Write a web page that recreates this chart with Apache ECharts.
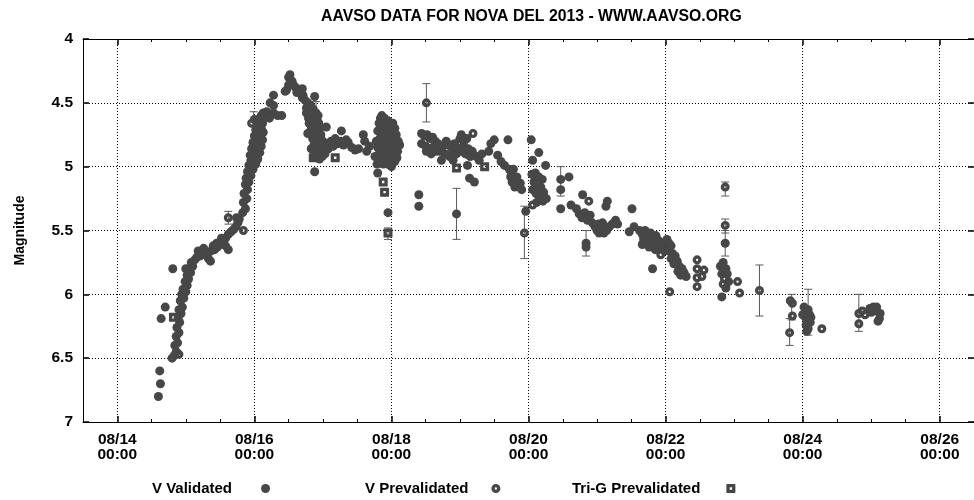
<!DOCTYPE html>
<html><head><meta charset="utf-8">
<script src="https://cdn.jsdelivr.net/npm/echarts@6/dist/echarts.min.js"></script>
<style>html,body{margin:0;padding:0;background:#fff}#c{width:974px;height:500px}</style>
</head><body><div id="c"></div>
<script>
const titleText = 'AAVSO DATA FOR NOVA DEL 2013 - WWW.AAVSO.ORG';
const yName = 'Magnitude';
const seriesNames = ['V Validated', 'V Prevalidated', 'Tri-G Prevalidated'];
// x values: day of August 2013 (UT); labels show MM/DD HH:mm
const xMajorDays = [14, 16, 18, 20, 22, 24, 26];
const xMinorDays = [14.5, 15, 15.5, 16.5, 17, 17.5, 18.5, 19, 19.5, 20.5, 21, 21.5, 22.5, 23, 23.5, 24.5, 25, 25.5];

const vValidated = [
  [14.60,6.80],[14.63,6.70],[14.62,6.60],[14.64,6.19],[14.70,6.10],[14.81,5.80],[15.00,5.80],
  [14.83,6.48],[14.86,6.45],[14.84,6.40],[14.88,6.38],[14.86,6.33],[14.90,6.30],[14.87,6.26],[14.91,6.22],
  [14.89,6.18],[14.93,6.15],[14.90,6.12],[14.95,6.10],[14.92,6.05],[14.97,6.03],[14.94,6.00],[15.00,5.98],
  [14.96,5.96],[15.02,5.93],[14.99,5.90],[15.04,5.88],[15.02,5.85],[15.07,5.83],[15.05,5.80],[15.10,5.78],
  [15.08,5.75],[15.13,5.73],[15.16,5.71],[15.20,5.70],[15.24,5.69],[15.28,5.68],[15.33,5.67],[15.37,5.66],
  [15.42,5.65],[15.46,5.63],[15.50,5.61],[15.54,5.59],[15.58,5.56],[15.62,5.53],[15.66,5.51],[15.70,5.49],
  [15.73,5.47],[15.76,5.44],[15.78,5.41],[15.74,5.40],[15.33,5.72],[15.36,5.74],[15.58,5.62],[15.62,5.65],
  [15.18,5.66],[15.26,5.64],[15.40,5.62],[15.52,5.56],
  [15.83,5.36],[15.87,5.33],[15.84,5.28],[15.89,5.25],[15.85,5.21],[15.90,5.18],[15.87,5.14],[15.92,5.12],
  [15.88,5.09],[15.95,5.07],[15.90,5.04],[15.98,5.02],[15.92,4.99],[16.02,4.98],[15.95,4.95],[16.05,4.94],
  [15.94,4.91],[16.00,4.90],[16.08,4.89],[15.96,4.86],[16.04,4.85],[16.10,4.84],[15.98,4.81],[16.06,4.80],
  [16.12,4.79],[16.00,4.76],[16.08,4.75],[16.13,4.73],[16.02,4.71],[16.10,4.70],[16.04,4.66],[16.12,4.66],
  [16.00,4.63],[16.08,4.62],
  [16.13,4.58],[16.18,4.57],[16.28,4.58],[16.40,4.60],[16.23,4.50],[16.28,4.44],[16.50,4.30],[16.57,4.36],
  [16.45,4.41],[16.67,4.40],[16.71,4.44],[16.88,4.45],[16.52,4.28],[16.55,4.33],[16.60,4.38],[16.50,4.36],
  [16.62,4.42],[16.70,4.39],[16.47,4.40],[16.28,4.52],[16.18,4.60],[16.10,4.60],[16.22,4.62],[16.34,4.60],
  [16.78,4.50],[16.82,4.52],[16.86,4.55],[16.80,4.58],[16.90,4.58],[16.84,4.62],[16.92,4.64],[16.80,4.66],
  [16.88,4.68],[16.95,4.70],[16.82,4.72],[16.90,4.74],[16.97,4.75],[16.85,4.78],[16.93,4.79],[17.00,4.80],
  [16.87,4.83],[16.96,4.84],[16.90,4.88],[16.98,4.88],[17.02,4.85],[16.92,4.92],[17.05,4.82],[17.08,4.86],
  [17.12,4.80],[17.15,4.84],[17.18,4.78],[17.22,4.82],[17.26,4.80],[17.30,4.83],[17.34,4.79],[17.37,4.81],
  [17.27,4.72],[17.05,4.69],[16.88,5.04],[16.70,4.46],[16.74,4.48],
  [16.76,4.54],[16.79,4.62],[16.83,4.68],[16.86,4.64],[16.89,4.70],[16.94,4.66],[16.78,4.74],[16.83,4.86],
  [16.88,4.91],[16.95,4.94],[16.99,4.92],[17.03,4.90],[16.93,4.60],[16.97,4.80],
  [17.47,4.87],[17.59,4.75],[17.61,4.80],[17.64,4.88],[17.42,4.85],[17.52,4.86],[17.68,4.84],
  [17.78,4.80],[17.80,4.72],[17.82,4.66],[17.84,4.62],[17.86,4.60],[17.88,4.64],[17.90,4.62],[17.92,4.66],
  [17.95,4.64],[17.98,4.68],[18.02,4.66],[18.05,4.70],[17.80,4.85],[17.83,4.78],[17.86,4.72],[17.89,4.70],
  [17.92,4.74],[17.95,4.72],[17.98,4.76],[18.01,4.74],[18.04,4.78],[18.07,4.75],[18.10,4.80],[17.82,4.90],
  [17.85,4.84],[17.88,4.80],[17.91,4.82],[17.94,4.80],[17.97,4.84],[18.00,4.82],[18.03,4.86],[18.06,4.84],
  [18.09,4.88],[17.84,4.95],[17.87,4.90],[17.90,4.88],[17.93,4.92],[17.96,4.90],[17.99,4.94],[18.02,4.92],
  [18.05,4.96],[17.76,4.92],[17.79,4.98],[17.88,4.98],[17.94,4.98],[18.00,5.00],[17.80,5.05],[17.95,5.36],
  [18.12,4.83],[18.08,4.93],
  [18.40,5.22],[18.40,5.31],[18.95,5.37],
  [18.44,4.74],[18.48,4.76],[18.52,4.75],[18.56,4.78],[18.60,4.77],[18.44,4.82],[18.50,4.84],[18.55,4.86],
  [18.60,4.85],[18.64,4.80],[18.68,4.82],[18.51,4.88],[18.58,4.90],[18.65,4.88],[18.70,4.88],[18.73,4.95],
  [18.75,4.84],[18.80,4.80],[18.84,4.83],[18.88,4.86],[18.92,4.82],[18.96,4.85],[19.00,4.78],[19.02,4.75],
  [18.78,4.90],[18.85,4.92],[18.90,4.95],[18.95,4.90],[19.00,4.88],[19.05,4.84],[19.08,4.90],[19.11,4.99],
  [19.12,4.86],[19.15,4.92],[19.18,4.88],[19.14,5.09],[19.21,5.12],[19.24,4.92],[19.28,4.95],[19.32,4.90],
  [19.06,4.80],[19.10,4.78],
  [19.45,4.82],[19.50,4.79],[19.70,4.79],[19.55,4.91],[19.65,4.99],[19.72,5.02],[19.75,5.06],[19.78,5.02],
  [19.80,5.10],[19.76,5.12],[19.83,5.08],[19.85,5.15],[19.80,5.16],[19.88,5.13],[19.90,5.18],[19.74,5.08],
  [19.60,4.96],[19.42,4.88],
  [20.04,4.79],[20.15,4.89],[20.06,4.95],[20.25,4.99],[20.05,5.06],[20.10,5.05],[20.15,5.08],[20.20,5.10],
  [20.08,5.12],[20.13,5.14],[20.18,5.16],[20.22,5.20],[20.06,5.18],[20.11,5.21],[20.16,5.24],[20.21,5.27],
  [20.26,5.25],[20.12,5.28],[19.96,5.35],
  [20.47,5.10],[20.59,5.08],[20.47,5.18],[20.47,5.33],[20.79,5.22],[20.62,5.30],[20.84,5.60],[20.84,5.63],
  [20.74,5.37],[20.70,5.33],[20.78,5.40],[20.82,5.36],[20.86,5.42],[20.93,5.44],[20.97,5.47],[21.00,5.50],
  [21.03,5.52],[21.06,5.49],[21.10,5.52],[21.14,5.50],[21.18,5.47],[21.22,5.45],[21.27,5.42],[21.30,5.45],
  [21.13,5.31],[21.15,5.27],[21.08,5.44],[21.02,5.45],[20.90,5.38],
  [21.51,5.33],[21.54,5.47],[21.47,5.51],[21.66,5.61],[21.81,5.80],
  [21.62,5.50],[21.66,5.53],[21.70,5.50],[21.74,5.55],[21.78,5.52],[21.82,5.56],[21.86,5.54],[21.90,5.58],
  [21.72,5.60],[21.76,5.63],[21.80,5.60],[21.85,5.65],[21.90,5.62],[21.95,5.60],[21.98,5.66],[21.68,5.57],
  [22.02,5.57],[22.05,5.60],[22.08,5.62],[22.04,5.66],[22.10,5.68],[22.14,5.70],[22.08,5.72],[22.17,5.74],
  [22.12,5.76],[22.20,5.78],[22.24,5.80],[22.18,5.82],[22.27,5.83],[22.30,5.86],[22.22,5.85],
  [22.87,5.60],[22.80,5.78],[22.84,5.75],[22.88,5.80],[22.82,5.84],[22.90,5.84],[22.88,5.95],[22.92,5.90],
  [22.82,6.02],
  [24.02,6.10],[24.05,6.14],[24.08,6.12],[24.04,6.18],[24.07,6.20],[24.10,6.16],[24.05,6.24],[24.08,6.27],
  [24.11,6.22],[24.06,6.29],[24.12,6.18],[24.00,6.16],
  [24.98,6.11],[25.03,6.10],[25.08,6.10],[25.13,6.15],[25.10,6.21],[25.05,6.13],[25.12,6.19],[25.00,6.14]
];

const vPrevalidated = [
  [14.80,6.50],[14.90,6.47],[15.45,5.60],[15.62,5.40],[15.84,5.50],[15.96,4.66],[16.76,4.58],[18.51,4.50],
  [19.19,4.74],[20.06,5.30],[19.94,5.52],[20.88,5.27],[21.93,5.69],[22.06,5.98],[22.46,5.73],[22.46,5.80],
  [22.56,5.81],[22.53,5.86],[22.46,5.87],[22.46,5.94],[22.87,5.16],[22.87,5.46],[22.86,5.88],[22.84,5.92],
  [23.05,5.90],[23.08,5.99],[23.37,5.97],[23.82,6.05],[23.85,6.07],[23.85,6.17],[23.81,6.30],[24.28,6.27],
  [24.82,6.15],[24.82,6.23],[24.91,6.16],[24.87,6.13]
];

const triGPrevalidated = [
  [14.82,6.18],[16.86,4.93],[17.18,4.93],[17.88,5.12],[17.90,5.20],[17.95,5.52],[18.95,5.01],[19.36,5.00]
];

// [day, upper magnitude, lower magnitude]
const errorBars = [
  [15.99,4.57,4.65],[15.62,5.35,5.45],[16.90,4.49,4.58],[17.95,5.48,5.57],[18.51,4.35,4.65],[18.95,5.17,5.57],
  [19.94,5.31,5.72],[20.47,5.00,5.23],[20.84,5.50,5.70],[22.87,5.12,5.23],[22.87,5.41,5.52],[22.87,5.50,5.70],
  [23.37,5.77,6.17],[23.84,6.00,6.20],[23.81,6.19,6.40],[24.08,5.96,6.32],[24.82,6.00,6.29]
];

const FONT = '"Liberation Sans", Arial, sans-serif';
const INK = '#474747';
const ringPath = 'path://M0,-10A10,10,0,1,1,0,10A10,10,0,1,1,0,-10ZM0,-2.6A2.6,2.6,0,1,0,0,2.6A2.6,2.6,0,1,0,0,-2.6Z';
const squarePath = 'path://M-9,-10L9,-10L10,-9L10,9L9,10L-9,10L-10,9L-10,-9ZM-2.6,-2.6L-2.6,2.6L2.6,2.6L2.6,-2.6Z';

const pad = n => (n < 10 ? '0' : '') + n;
const xLabel = v => '08/' + pad(Math.round(v)) + '\n00:00';

const legendText = gap => ({fontFamily: FONT, fontSize: 15, fontWeight: 'bold', color: '#000', padding: [0, gap, 0, 0]});
const baseX = {type: 'value', min: 13.5, max: 26.5, splitLine: {show: false}, axisLabel: {show: false}};
const chart = echarts.init(document.getElementById('c'), null, {renderer: 'canvas'});
chart.setOption({
  animation: false,
  backgroundColor: '#fff',
  title: {text: titleText, left: 316, top: 4,
    textStyle: {fontFamily: FONT, fontSize: 15.8, fontWeight: 'bold', color: '#000'}},
  grid: {left: 83, top: 39, right: -2, bottom: 78, containLabel: false},
  legend: [
    {data: [seriesNames[0]], left: 147, top: 476, align: 'right', itemWidth: 9, itemHeight: 9, textStyle: legendText(24)},
    {data: [seriesNames[1]], left: 360, top: 476, align: 'right', itemWidth: 9, itemHeight: 9, textStyle: legendText(18)},
    {data: [seriesNames[2]], left: 567, top: 476, align: 'right', itemWidth: 9, itemHeight: 9, textStyle: legendText(21)}
  ],
  xAxis: [
    Object.assign({}, baseX, {position: 'bottom',
      axisLine: {show: true, onZero: false, lineStyle: {color: '#000', width: 1}},
      axisTick: {show: true, inside: true, length: 6, customValues: xMajorDays, lineStyle: {color: '#000', width: 1.5}},
      axisLabel: {show: true, customValues: xMajorDays, formatter: xLabel, color: '#000', fontFamily: FONT,
        fontSize: 15.5, fontWeight: 'bold', lineHeight: 15, margin: 10},
      splitLine: {show: true, lineStyle: {color: '#000', width: 1, type: [1, 2]}}}),
    Object.assign({}, baseX, {position: 'bottom', axisLine: {show: false},
      axisTick: {show: true, inside: true, length: 3, customValues: xMinorDays, lineStyle: {color: '#000'}}}),
    Object.assign({}, baseX, {position: 'top',
      axisLine: {show: true, onZero: false, lineStyle: {color: '#000', width: 1}},
      axisTick: {show: true, inside: true, length: 6, customValues: xMajorDays, lineStyle: {color: '#000', width: 1.5}}}),
    Object.assign({}, baseX, {position: 'top', axisLine: {show: false},
      axisTick: {show: true, inside: true, length: 3, customValues: xMinorDays, lineStyle: {color: '#000'}}})
  ],
  yAxis: [
    {type: 'value', min: 4, max: 7, interval: 0.5, inverse: true, position: 'left',
      name: yName, nameLocation: 'middle', nameGap: 56, nameRotate: 90,
      nameTextStyle: {fontFamily: FONT, fontSize: 14, fontWeight: 'bold', color: '#000'},
      axisLine: {show: true, onZero: false, lineStyle: {color: '#000', width: 1}},
      axisTick: {show: true, inside: true, length: 6, lineStyle: {color: '#000', width: 1.5}},
      axisLabel: {color: '#000', fontFamily: FONT, fontSize: 15.5, fontWeight: 'bold', margin: 10},
      splitLine: {show: true, lineStyle: {color: '#000', width: 1, type: [1, 2]}}},
    {type: 'value', min: 4, max: 7, interval: 0.5, inverse: true, position: 'right',
      axisLine: {show: true, onZero: false, lineStyle: {color: '#000', width: 1}},
      axisTick: {show: true, inside: true, length: 6, lineStyle: {color: '#000', width: 1.5}},
      axisLabel: {show: false}, splitLine: {show: false}}
  ],
  series: [
    {type: 'custom', name: 'errors', xAxisIndex: 0, yAxisIndex: 0, data: errorBars, z: 1,
      encode: {x: 0, y: [1, 2]},
      renderItem: (params, api) => {
        const x = api.value(0);
        const a = api.coord([x, api.value(1)]);
        const b = api.coord([x, api.value(2)]);
        const w = 4;
        const style = {stroke: '#5a5a5a', lineWidth: 1, fill: null};
        return {type: 'group', children: [
          {type: 'line', shape: {x1: a[0], y1: a[1], x2: b[0], y2: b[1]}, style},
          {type: 'line', shape: {x1: a[0] - w, y1: a[1], x2: a[0] + w, y2: a[1]}, style},
          {type: 'line', shape: {x1: b[0] - w, y1: b[1], x2: b[0] + w, y2: b[1]}, style}
        ]};
      }},
    {type: 'scatter', name: seriesNames[0], data: vValidated, symbol: 'circle', symbolSize: 9, z: 3,
      itemStyle: {color: INK, opacity: 1}},
    {type: 'scatter', name: seriesNames[1], data: vPrevalidated, symbol: ringPath, symbolSize: 9, z: 4,
      itemStyle: {color: INK, opacity: 1}},
    {type: 'scatter', name: seriesNames[2], data: triGPrevalidated, symbol: squarePath, symbolSize: 9, z: 4,
      itemStyle: {color: INK, opacity: 1}}
  ]
});
</script>
</body></html>
